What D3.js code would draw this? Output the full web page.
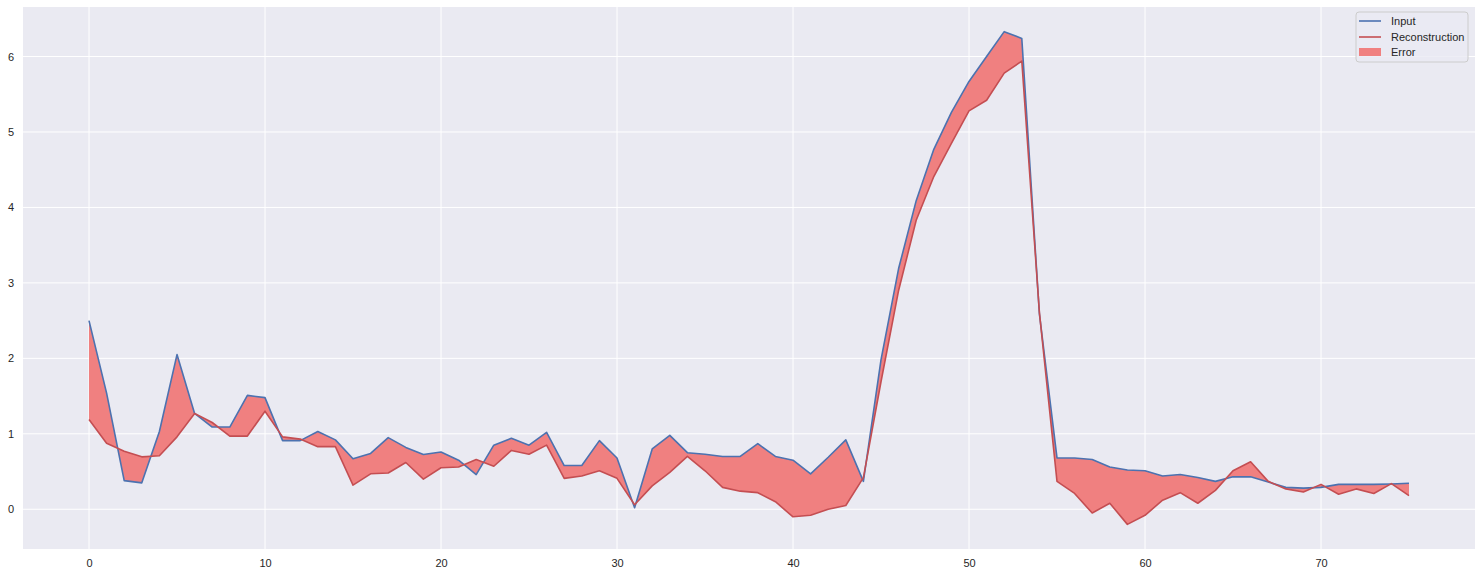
<!DOCTYPE html>
<html><head><meta charset="utf-8">
<script src="https://cdn.jsdelivr.net/npm/d3@7"></script>
<style>
body{margin:0;background:#fff;}
svg text{font-family:"Liberation Sans",Arial,sans-serif;}
</style></head>
<body><svg id="c" width="1480" height="577"></svg>
<script>
const inputValues = [2.50,1.54,0.38,0.35,1.03,2.05,1.27,1.09,1.09,1.51,1.48,0.91,0.91,1.03,0.92,0.67,0.74,0.95,0.82,0.725,
 0.76,0.65,0.46,0.85,0.94,0.85,1.02,0.58,0.58,0.91,0.68,0.02,0.80,0.98,0.75,0.73,0.70,0.70,0.87,0.70,
 0.65,0.47,0.69,0.92,0.37,1.98,3.19,4.09,4.77,5.26,5.67,6.00,6.33,6.24,2.59,0.68,0.68,0.66,0.56,0.52,
 0.51,0.44,0.46,0.42,0.37,0.43,0.43,0.36,0.29,0.28,0.29,0.33,0.33,0.33,0.335,0.345];
const reconValues = [1.19,0.875,0.77,0.695,0.71,0.96,1.27,1.15,0.97,0.97,1.30,0.96,0.93,0.83,0.83,0.32,0.47,0.48,0.62,0.40,
 0.55,0.56,0.66,0.57,0.78,0.73,0.85,0.41,0.44,0.51,0.41,0.06,0.31,0.49,0.70,0.51,0.29,0.24,0.22,0.10,
 -0.10,-0.08,0.00,0.05,0.42,1.69,2.90,3.83,4.41,4.85,5.28,5.42,5.78,5.94,2.61,0.37,0.21,-0.05,0.08,-0.20,
 -0.08,0.12,0.22,0.08,0.25,0.51,0.63,0.37,0.27,0.23,0.33,0.20,0.27,0.21,0.34,0.18];
const xTicks = [0,10,20,30,40,50,60,70];
const yTicks = [0,1,2,3,4,5,6];
const legendLabels = ["Input","Reconstruction","Error"];

const svg = d3.select("#c");
const L=23, R=1475, T=7, B=549;
const n = inputValues.length;
const x = d3.scaleLinear().domain([-3.75, 78.75]).range([L,R]);
const y = d3.scaleLinear().domain([-0.5265, 6.6565]).range([B,T]);

svg.append("rect").attr("x",L).attr("y",T).attr("width",R-L).attr("height",B-T).attr("fill","#EAEAF2");

// grid
svg.append("g").selectAll("line").data(xTicks).join("line")
 .attr("x1",d=>x(d)).attr("x2",d=>x(d)).attr("y1",T).attr("y2",B)
 .attr("stroke","#fff").attr("stroke-width",1);
svg.append("g").selectAll("line").data(yTicks).join("line")
 .attr("y1",d=>y(d)).attr("y2",d=>y(d)).attr("x1",L).attr("x2",R)
 .attr("stroke","#fff").attr("stroke-width",1);

// axes
const xa = svg.append("g").attr("transform",`translate(0,${B})`)
 .call(d3.axisBottom(x).tickValues(xTicks).tickSize(0).tickPadding(10).tickFormat(d3.format("d")));
const ya = svg.append("g").attr("transform",`translate(${L},0)`)
 .call(d3.axisLeft(y).tickValues(yTicks).tickSize(0).tickPadding(9).tickFormat(d3.format("d")));
[xa,ya].forEach(a=>{a.select(".domain").remove();
 a.selectAll("text").attr("fill","#262626").style("font-size","11px");});

const idx = d3.range(n);
const area = d3.area().x(i=>x(i)).y0(i=>y(reconValues[i])).y1(i=>y(inputValues[i]));
svg.append("path").datum(idx).attr("d",area).attr("fill","#F08080");

const line = vals => d3.line().x(i=>x(i)).y(i=>y(vals[i]));
svg.append("path").datum(idx).attr("d",line(inputValues)).attr("fill","none")
 .attr("stroke","#4C72B0").attr("stroke-width",1.6).attr("stroke-linejoin","round");
svg.append("path").datum(idx).attr("d",line(reconValues)).attr("fill","none")
 .attr("stroke","#C44E52").attr("stroke-width",1.6).attr("stroke-linejoin","round");

// legend
const lg = svg.append("g");
lg.append("rect").attr("x",1356).attr("y",12).attr("width",112).attr("height",50)
 .attr("rx",3).attr("fill","#EAEAF2").attr("fill-opacity",0.8).attr("stroke","#cccccc").attr("stroke-width",1);
const rows=[21,37,52];
lg.append("line").attr("x1",1359).attr("x2",1381).attr("y1",rows[0]).attr("y2",rows[0]).attr("stroke","#4C72B0").attr("stroke-width",1.6);
lg.append("line").attr("x1",1359).attr("x2",1381).attr("y1",rows[1]).attr("y2",rows[1]).attr("stroke","#C44E52").attr("stroke-width",1.6);
lg.append("rect").attr("x",1359).attr("y",rows[2]-4).attr("width",22).attr("height",8).attr("fill","#F08080");
lg.selectAll("text").data(legendLabels).join("text")
 .attr("x",1391).attr("y",(d,i)=>rows[i]).attr("dy","0.35em")
 .attr("fill","#262626").style("font-size","11px").text(d=>d);
</script></body></html>
